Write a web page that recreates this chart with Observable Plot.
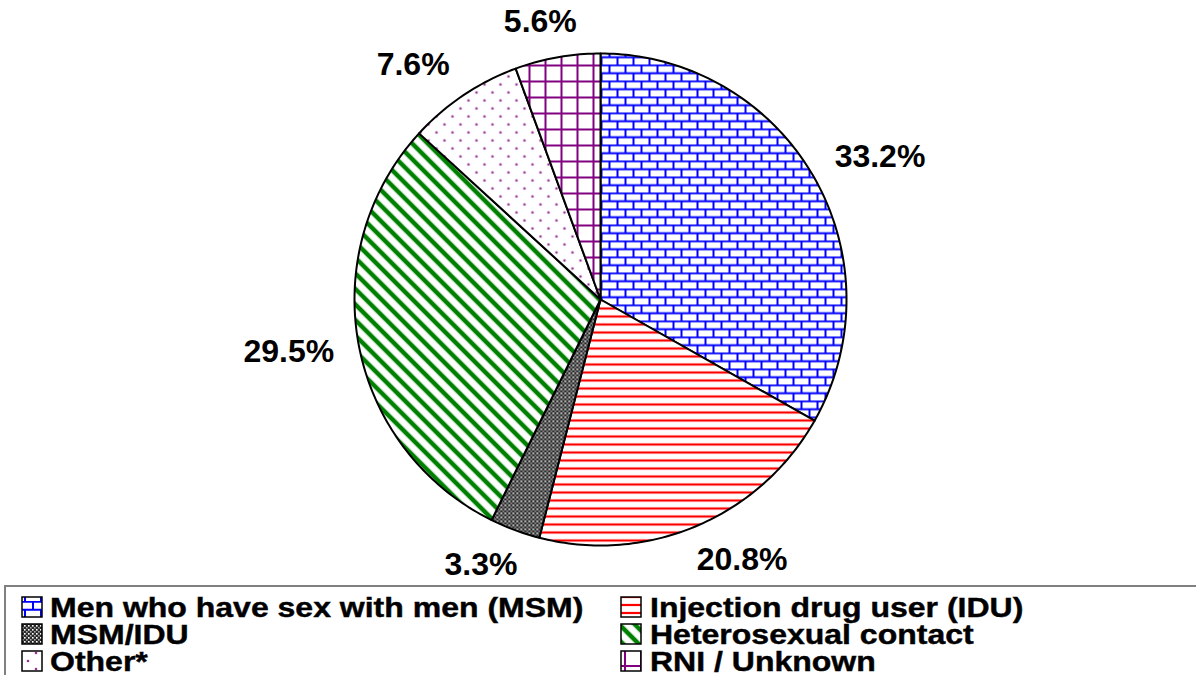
<!DOCTYPE html>
<html>
<head>
<meta charset="utf-8">
<script src="https://cdn.jsdelivr.net/npm/d3@7"></script>
<script src="https://cdn.jsdelivr.net/npm/@observablehq/plot@0.6"></script>
<style>
  html, body { margin: 0; padding: 0; background: #fff; overflow: hidden; }
  #chart { position: relative; width: 1196px; height: 675px; }
  svg { display: block; }
</style>
</head>
<body>
<div id="chart"></div>
<script>
// ---- data ----
const categories = [
  "Men who have sex with men (MSM)",
  "Injection drug user (IDU)",
  "MSM/IDU",
  "Heterosexual contact",
  "Other*",
  "RNI / Unknown"
];
const percents = [33.2, 20.8, 3.3, 29.5, 7.6, 5.6];
const patternIds = ["p-msm", "p-idu", "p-msmidu", "p-hetero", "p-other", "p-rni"];

// ---- layout ----
const W = 1196, H = 585;
const R = 246, CX = 600, CY = 299;
const FONT = "Arial, 'Liberation Sans', sans-serif";

const pie = d3.pie().sort(null).value(d => d)(percents);

// polygon vertices for each slice in unit-radius coordinates (y up)
const slices = pie.map((p) => {
  const pts = [{x: 0, y: 0}];
  const n = Math.max(2, Math.ceil((p.endAngle - p.startAngle) / (Math.PI / 180)));
  for (let k = 0; k <= n; k++) {
    const a = p.startAngle + (p.endAngle - p.startAngle) * k / n;
    pts.push({x: Math.sin(a), y: Math.cos(a)});
  }
  pts.push({x: 0, y: 0});
  return pts;
});

// outside-end label placement: anchor beyond the rim, pushed out by half the text box
const ctx = document.createElement("canvas").getContext("2d");
ctx.font = "bold 32px Arial, 'Liberation Sans', sans-serif";
const gap = 25, halfH = 11.5;
const labelData = pie.map((p, i) => {
  const a = (p.startAngle + p.endAngle) / 2;
  const text = percents[i].toFixed(1) + "%";
  const w = ctx.measureText(text).width;
  const s = Math.sin(a), c = Math.cos(a);
  const px = (R + gap) * s + (w / 2) * Math.sign(s) * Math.min(1, 2 * Math.abs(s));
  const py = (R + gap) * c + halfH * c;
  return {x: px / R, y: py / R, text};
});

const plot = Plot.plot({
  width: W,
  height: H,
  margin: 0,
  x: {domain: [-CX / R, (W - CX) / R], axis: null},
  y: {domain: [-(H - CY) / R, CY / R], axis: null},
  style: {background: "transparent", overflow: "visible"},
  marks: [
    ...slices.map((pts, i) => Plot.line(pts, {
      x: "x", y: "y",
      fill: `url(#${patternIds[i]})`,
      stroke: "black",
      strokeWidth: 2,
      strokeLinejoin: "round"
    })),
    Plot.text(labelData, {
      x: "x", y: "y", text: "text",
      fontSize: 32, fontWeight: "bold",
      fontFamily: FONT,
      fill: "black"
    })
  ]
});

// ---- pattern definitions ----
const defsHTML = `
<pattern id="p-msm" width="16" height="16" patternUnits="userSpaceOnUse">
  <rect width="16" height="16" fill="#fff"/>
  <path d="M0 0.8H16M0 8.8H16M1 0V8.8M9 8.8V16" stroke="#0000ff" stroke-width="2" fill="none"/>
</pattern>
<pattern id="p-idu" width="8" height="8" patternUnits="userSpaceOnUse">
  <rect width="8" height="8" fill="#fff"/>
  <path d="M0 4H8" stroke="#ff0000" stroke-width="2.2"/>
</pattern>
<pattern id="p-msmidu" width="4" height="4" patternUnits="userSpaceOnUse">
  <rect width="4" height="4" fill="#2a2a2a"/>
  <rect x="0" y="0" width="1.6" height="1.6" fill="#fff"/>
  <rect x="2" y="2" width="1.6" height="1.6" fill="#aaa"/>
</pattern>
<pattern id="p-hetero" width="11" height="11" patternUnits="userSpaceOnUse" patternTransform="rotate(-45)">
  <rect width="11" height="11" fill="#fff"/>
  <path d="M3 0V11" stroke="#008000" stroke-width="4.5"/>
</pattern>
<pattern id="p-other" width="16" height="16" patternUnits="userSpaceOnUse">
  <rect width="16" height="16" fill="#fff"/>
  <circle cx="4" cy="4" r="1.3" fill="#993399"/>
  <circle cx="12" cy="12" r="1.3" fill="#993399"/>
</pattern>
<pattern id="p-rni" width="16" height="16" patternUnits="userSpaceOnUse">
  <rect width="16" height="16" fill="#fff"/>
  <path d="M0 1H16M1 0V16" stroke="#800080" stroke-width="2"/>
</pattern>`;
const defs = document.createElementNS("http://www.w3.org/2000/svg", "defs");
defs.innerHTML = defsHTML;
plot.insertBefore(defs, plot.firstChild);

document.getElementById("chart").appendChild(plot);

// ---- legend (below the plot) ----
const legH = 90;
const leg = d3.create("svg").attr("width", W).attr("height", legH);
leg.append("rect")
  .attr("x", 5).attr("y", 1).attr("width", 1300).attr("height", 300)
  .attr("fill", "none").attr("stroke", "#808080").attr("stroke-width", 2);
const colIconX = [22, 621], colTextX = [50, 650];
const rowIconY = [12, 39, 66], rowBase = [32, 59, 86];
categories.forEach((c, i) => {
  const col = i % 2, row = Math.floor(i / 2);
  leg.append("rect")
    .attr("x", colIconX[col]).attr("y", rowIconY[row])
    .attr("width", 20).attr("height", 20)
    .attr("fill", `url(#${patternIds[i]})`)
    .attr("stroke", "black").attr("stroke-width", 1.5);
  leg.append("text")
    .attr("transform", `translate(${colTextX[col]},${rowBase[row]}) scale(1,0.84)`)
    .attr("font-family", FONT)
    .attr("font-weight", "bold")
    .attr("font-size", 32)
    .attr("fill", "black")
    .attr("stroke", "black")
    .attr("stroke-width", 0.5)
    .text(c);
});
document.getElementById("chart").appendChild(leg.node());
</script>
</body>
</html>
